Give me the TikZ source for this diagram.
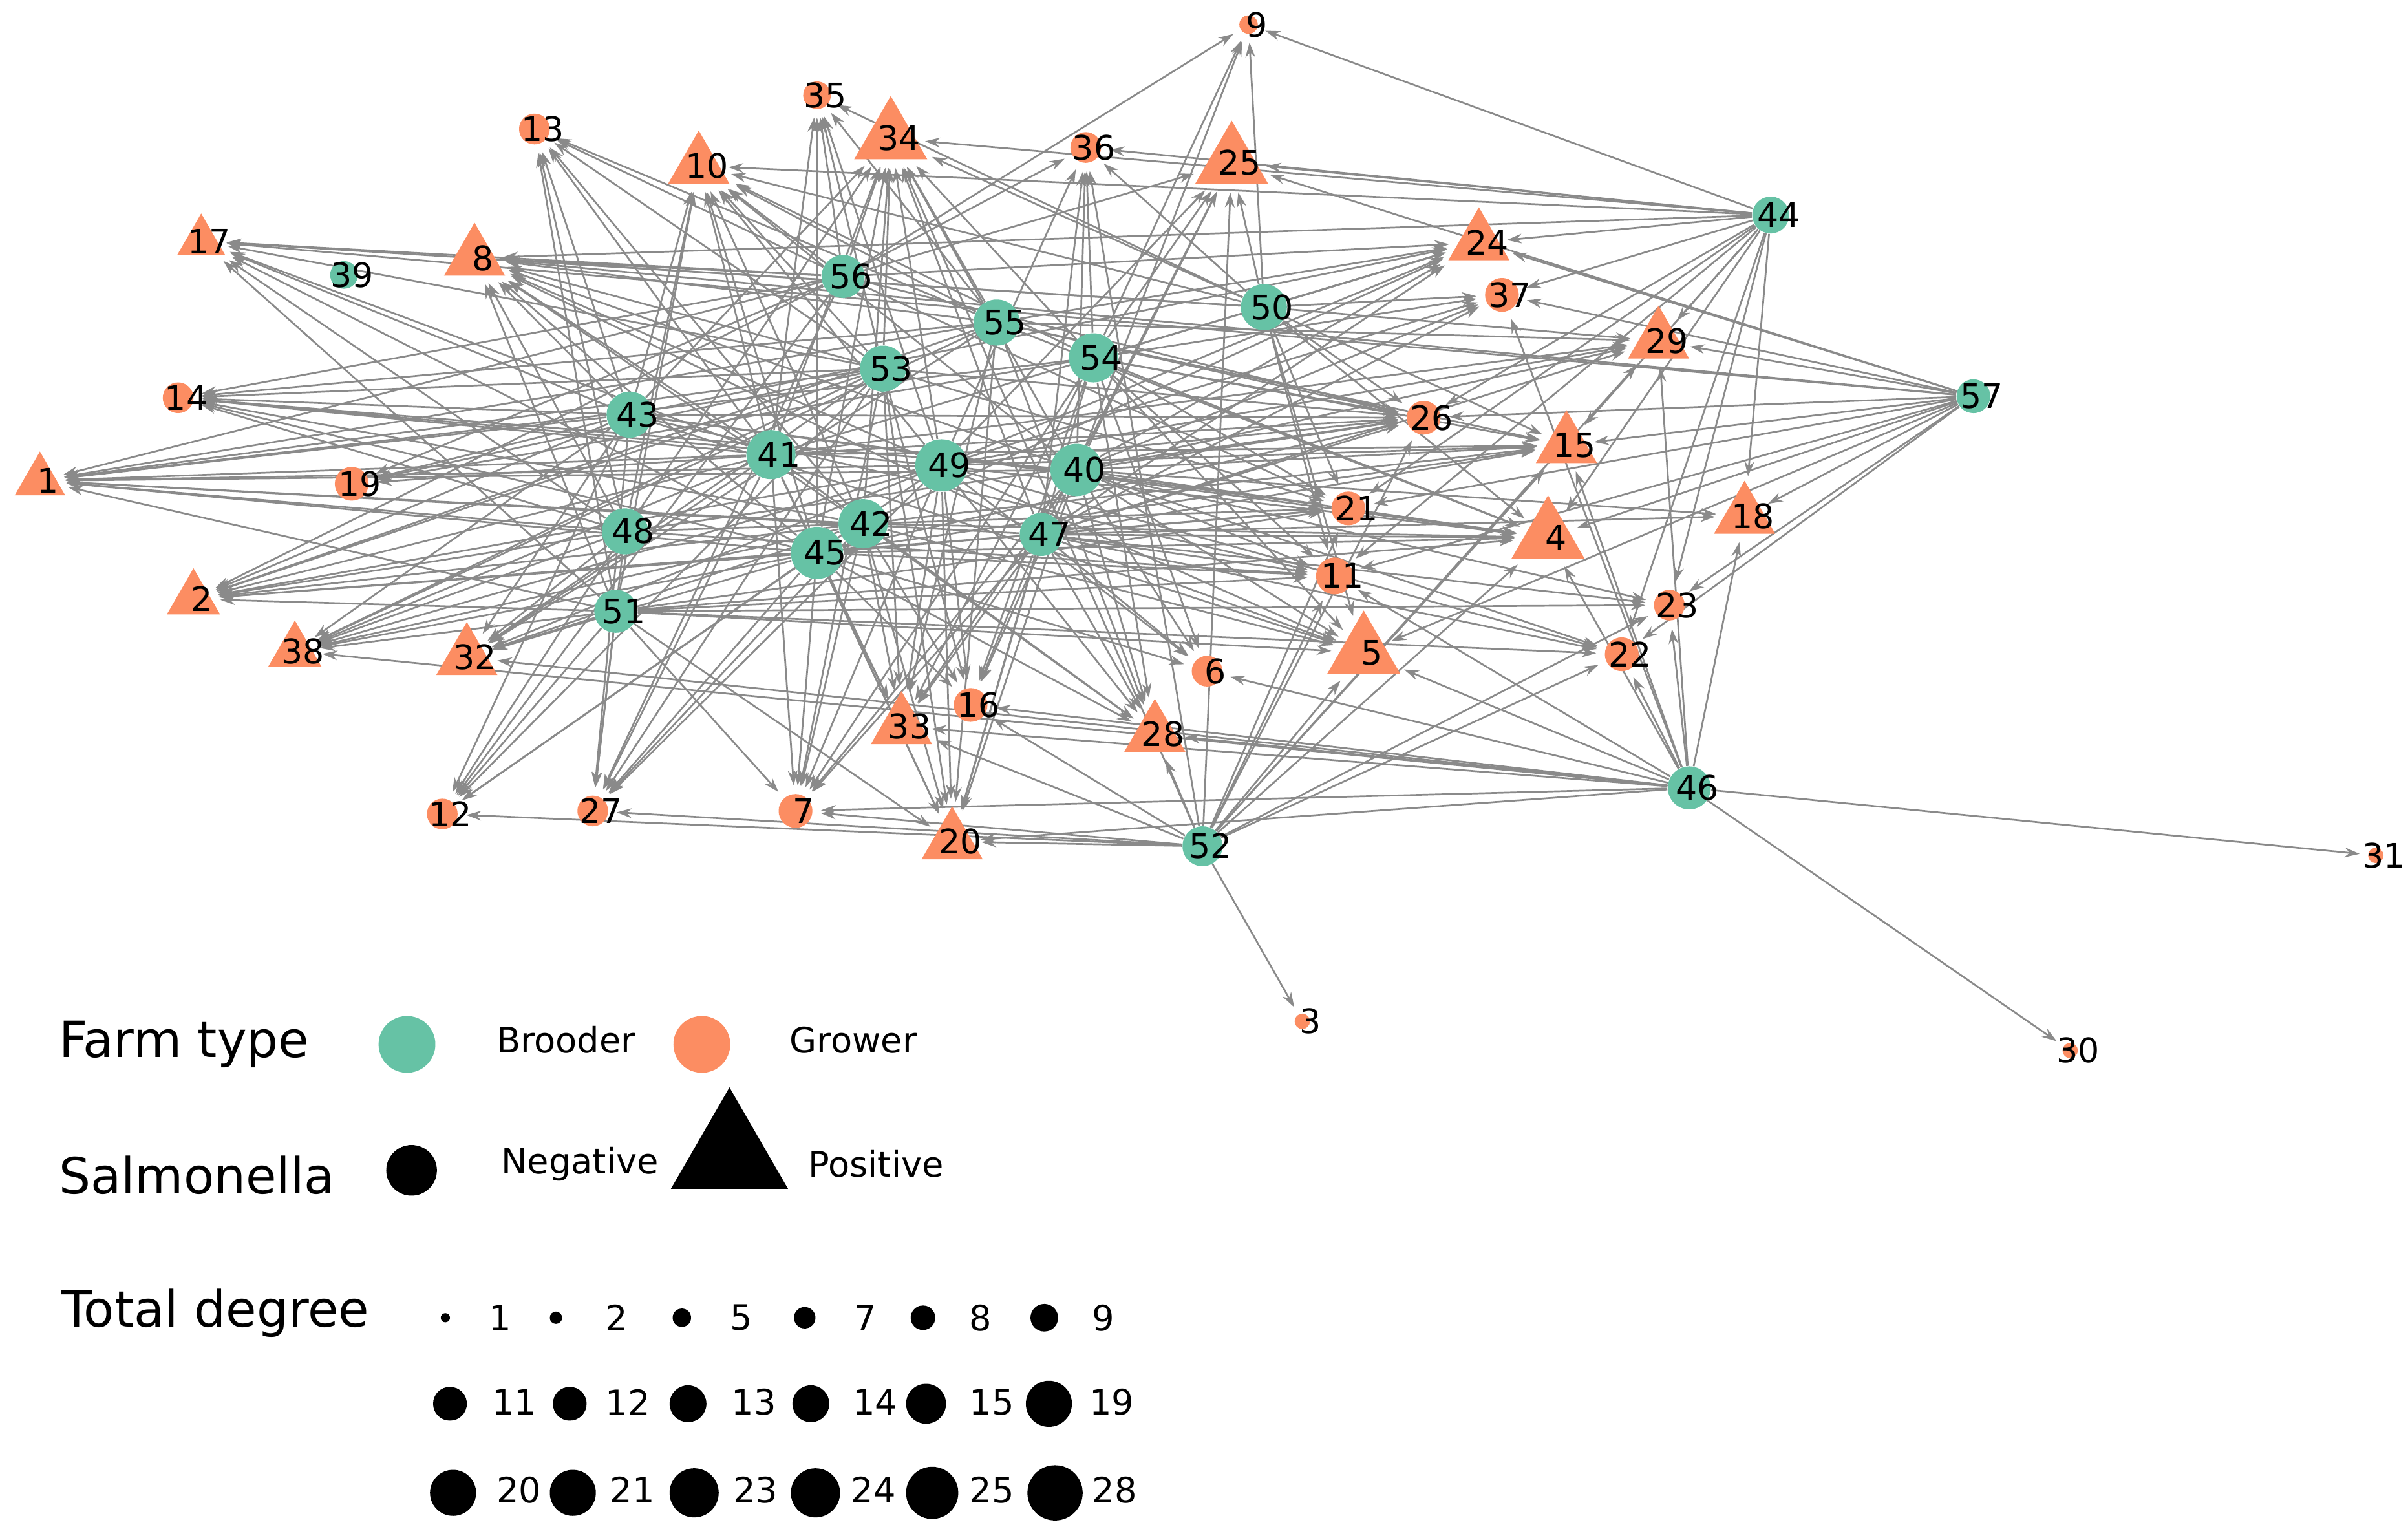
\documentclass[tikz,border=0pt]{standalone}
\usepackage{fontspec}
\setmainfont{DejaVu Sans}
\usetikzlibrary{shapes.geometric,arrows.meta,backgrounds}
\definecolor{brooder}{HTML}{66C2A5}
\definecolor{grower}{HTML}{FC8D62}
\definecolor{edgec}{HTML}{8A8A8A}
\tikzset{
 gb/.style={circle,fill=brooder,inner sep=0pt,minimum size=#1*0.02cm},
 gr/.style={circle,fill=grower,inner sep=0pt,minimum size=#1*0.02cm},
 gt/.style={regular polygon,regular polygon sides=3,fill=grower,inner sep=0pt,minimum size=#1*0.02cm},
 lab/.style={font=\fontsize{12.5}{14}\selectfont,inner sep=0pt,xshift=3pt},
 edge/.style={draw=edgec,line width=0.65pt,-{Stealth[length=5.5pt,width=3.6pt]},shorten >=3pt},
 leg/.style={font=\fontsize{13}{15}\selectfont,anchor=west,inner sep=0pt},
 legt/.style={font=\fontsize{18.5}{21}\selectfont,anchor=west,inner sep=0pt},
 dot/.style={circle,fill=black,inner sep=0pt,minimum size=#1*0.04cm},
}
\begin{document}
\begin{tikzpicture}[x=0.02cm,y=-0.02cm]
\useasboundingbox (0,0) rectangle (1568,1001);
\foreach \n/\x/\y/\s/\d in {
34/580/90/gt/55,25/802/106/gt/55,4/1008/350/gt/55,5/888/425/gt/55,
10/455/108/gt/46,8/309/168/gt/46,24/963/158/gt/46,29/1080/222/gt/46,15/1020/290/gt/46,18/1136/336/gt/46,
32/304/428/gt/46,33/587/473/gt/46,28/752/478/gt/46,20/620/548/gt/46,17/131/157/gt/36,1/26/313/gt/38,2/126/390/gt/40,38/192/424/gt/40,
9/813/16/gr/12,35/532/62/gr/18,13/348/84/gr/20,36/707/96/gr/20,37/978/192/gr/22,14/116/259/gr/20,26/927/272/gr/22,
19/229/315/gr/22,21/878/331/gr/22,11/869/375/gr/24,23/1087/394/gr/20,22/1056/426/gr/22,6/786/437/gr/20,16/632/459/gr/22,
12/288/530/gr/20,27/386/528/gr/20,7/518/528/gr/22,3/848/665/gr/10,31/1547/557/gr/10,30/1348/684/gr/10,
44/1153/140/gb/24,39/224/179/gb/18,56/549/180/gb/28,50/823/200/gb/30,55/649/210/gb/30,54/712/233/gb/32,53/575/240/gb/30,
57/1285/258/gb/22,43/410/270/gb/30,41/502/296/gb/32,49/613/303/gb/34,40/701/306/gb/34,42/562/341/gb/32,48/407/346/gb/30,
47/678/348/gb/28,45/532/360/gb/34,51/401/398/gb/28,46/1100/513/gb/28,52/783/551/gb/26}
{\node[\s=\d] (n\n) at (\x,\y) {}; \node[lab] (t\n) at (\x,\y) {\n};}
\begin{pgfonlayer}{background}
\foreach \s/\tl in {
44/{9,25,36,24,37,29,15,4,18,23,22,21,26,10,34,8,11},
57/{29,15,4,18,23,22,5,26,37,24,25,21,11,17,8},
46/{31,30,18,23,22,4,5,15,29,28,20,7,16,33,6,32,38,11,37},
52/{3,28,20,7,27,12,16,33,5,4,22,23,11,21,15,26,29,25,34,36},
50/{25,9,24,37,29,26,15,21,11,4,5,34,10,8,17,36,35},
56/{34,35,10,13,8,17,14,1,9,25,36,24,26,21,12,27,2,19},
55/{34,35,10,13,8,14,1,2,24,29,26,15,4,33,20,28,38,32},
54/{25,36,34,9,10,24,37,26,15,21,11,4,5,6,16,33,28,20,7,19,1},
53/{34,35,10,13,8,17,14,1,2,19,38,32,12,27,7,20,33,16,26,21},
43/{13,10,34,8,17,14,1,19,2,38,32,12,27,26,21,11,4,5,24},
41/{13,10,34,35,8,17,14,1,2,19,38,32,27,7,20,33,28,24,29,15,26},
49/{35,34,36,25,10,8,14,1,2,38,32,12,27,7,20,16,33,28,6,5,4,15,26,24,37,29,22},
40/{9,25,36,34,10,8,24,37,29,26,15,4,18,23,22,21,11,5,6,28,20,16,33,7,1,14},
42/{34,10,13,8,14,1,2,38,32,27,7,20,33,16,28,5,4,15,24},
48/{13,17,14,1,2,38,32,12,27,10,8,34,26,21,11},
47/{25,34,36,24,37,29,26,15,4,18,23,22,21,11,5,6,28,20,33,16,7,8,1,2},
45/{35,34,10,8,17,14,1,2,38,32,12,27,7,20,33,16,28,6,11,21,26,15,4},
51/{13,10,8,17,1,2,38,32,12,27,7,20,21,11,4,22,23,5}}
{\foreach \t in \tl {\draw[edge] (n\s) -- (n\t);}}
\end{pgfonlayer}
% legend
\node[legt] (lft) at (38,680) {Farm type};
\node[circle,fill=brooder,minimum size=0.74cm,inner sep=0pt] (lb) at (265,680) {};
\node[leg] (lbt) at (323,677) {Brooder};
\node[circle,fill=grower,minimum size=0.74cm,inner sep=0pt] (lg) at (457,680) {};
\node[leg] (lgt) at (514,677) {Grower};
\node[legt] (lst) at (38,765) {Salmonella};
\node[circle,fill=black,minimum size=0.66cm,inner sep=0pt] (ln) at (268,762) {};
\node[leg] (lnt) at (326,758) {Negative};
\node[regular polygon,regular polygon sides=3,fill=black,inner sep=0pt,minimum size=1.76cm] (lp) at (475,752) {};
\node[leg] (lpt) at (526,758) {Positive};
\node[legt] (ltd) at (40,855) {Total degree};
\foreach \x/\r/\l/\lx [count=\i] in {290/3/1/318,362/4/2/394,444/6/5/475,524/7/7/556,601/8/8/631,680/9/9/711}
{\node[dot=\r] (da\i) at (\x,858) {}; \node[leg] (la\i) at (\lx,858) {\l};}
\foreach \x/\r/\l/\lx [count=\i] in {293/11/11/320,371/11/12/394,448/12/13/476,528/12/14/555,603/13/15/631,683/15/19/709}
{\node[dot=\r] (db\i) at (\x,914) {}; \node[leg] (lb\i) at (\lx,913) {\l};}
\foreach \x/\r/\l/\lx [count=\i] in {295/15/20/323,373/15/21/397,452/16/23/477,531/16/24/554,607/17/25/631,687/18/28/711}
{\node[dot=\r] (dc\i) at (\x,972) {}; \node[leg] (lc\i) at (\lx,970) {\l};}
\end{tikzpicture}
\end{document}
